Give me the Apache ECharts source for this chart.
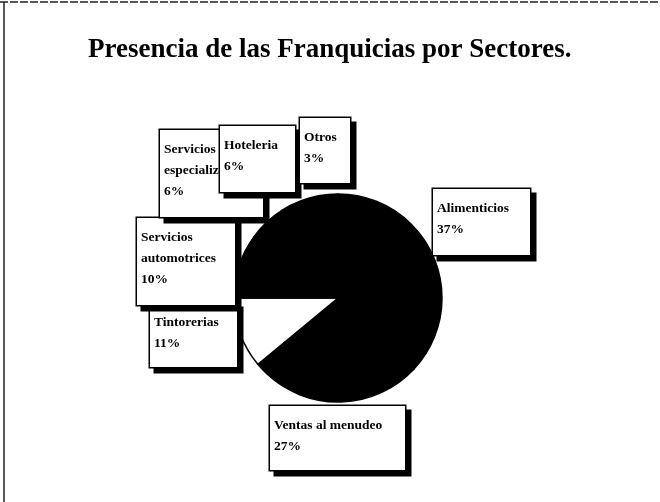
<!DOCTYPE html>
<html>
<head>
<meta charset="utf-8">
<script src="https://cdn.jsdelivr.net/npm/echarts@6/dist/echarts.min.js"></script>
<style>
  html, body { margin: 0; padding: 0; background: #fff; }
  #main { width: 660px; height: 502px; }
</style>
</head>
<body>
<div id="main"></div>
<script>
// sectores y porcentajes
var sectores = ['Alimenticios', 'Ventas al menudeo', 'Tintorerias', 'Servicios automotrices', 'Servicios especializados', 'Hoteleria', 'Otros'];
var porcentajes = [37, 27, 11, 10, 6, 6, 3];
var colores = ['#000', '#000', '#fff', '#000', '#000', '#000', '#000'];

// cajas de etiqueta: [x, y, ancho, alto]
var cajas = [
    [433, 189, 97, 66],
    [270, 406, 135, 64],
    [150, 303, 87, 64],
    [137, 218, 98, 87],
    [160, 130, 103, 87],
    [220, 126, 75, 66],
    [300, 118, 50, 65]
];

var datos = [];
for (var i = 0; i < sectores.length; i++) {
    datos.push({
        name: sectores[i],
        value: porcentajes[i],
        itemStyle: { color: colores[i] },
        label: { width: cajas[i][2] - 8, height: cajas[i][3] - 13 }
    });
}

var myChart = echarts.init(document.getElementById('main'));
var option = {
    animation: false,
    backgroundColor: '#fff',
    title: {
        text: 'Presencia de las Franquicias por Sectores.',
        left: 83,
        top: 32,
        textStyle: {
            fontFamily: 'Liberation Serif',
            fontWeight: 'bold',
            fontSize: 27,
            color: '#000'
        }
    },
    graphic: [
        { type: 'line', shape: { x1: 0, y1: 2, x2: 660, y2: 2 }, style: { stroke: '#222', lineWidth: 1.5, lineDash: [8, 2] } },
        { type: 'line', shape: { x1: 4, y1: 2, x2: 4, y2: 502 }, style: { stroke: '#222', lineWidth: 1.5 } }
    ],
    series: [
        {
            name: 'Sectores',
            type: 'pie',
            center: [338, 298],
            radius: 104,
            startAngle: 90,
            clockwise: true,
            emphasis: { disabled: true },
            itemStyle: { borderColor: '#000', borderWidth: 1.5 },
            labelLine: { show: false },
            label: {
                show: true,
                formatter: '{b}\n{c}%',
                fontFamily: 'Liberation Serif',
                fontWeight: 'bold',
                fontSize: 13.5,
                lineHeight: 21,
                color: '#000',
                align: 'left',
                overflow: 'break',
                backgroundColor: '#fff',
                borderColor: '#000',
                borderWidth: 1.5,
                padding: [9, 4, 4, 4],
                shadowColor: '#000',
                shadowBlur: 0,
                shadowOffsetX: 5,
                shadowOffsetY: 5
            },
            labelLayout: function (params) {
                var c = cajas[params.dataIndex];
                return { x: c[0], y: c[1], align: 'left', verticalAlign: 'top', hideOverlap: false, moveOverlap: false };
            },
            data: datos
        }
    ]
};
myChart.setOption(option);
</script>
</body>
</html>
